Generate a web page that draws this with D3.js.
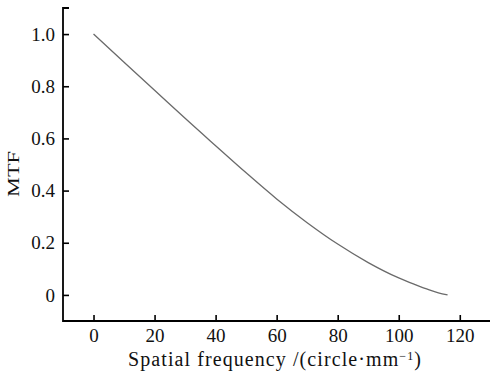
<!DOCTYPE html>
<html><head><meta charset="utf-8">
<script src="https://cdn.jsdelivr.net/npm/d3@7"></script>
<style>
html,body{margin:0;padding:0;background:#fff;}
svg text{font-family:"Liberation Serif","Times New Roman",serif;}
</style></head>
<body><svg id="c" width="490" height="373"></svg>
<script>
const freq = [0, 10, 20, 30, 40, 50, 60, 70, 80, 90, 100, 105, 110, 113, 116];
const mtf  = [1.0, 0.892, 0.785, 0.677, 0.572, 0.468, 0.368, 0.277, 0.195, 0.124, 0.065, 0.041, 0.019, 0.008, 0.0];
const xTicks = [0, 20, 40, 60, 80, 100, 120];
const yTicks = [0, 0.2, 0.4, 0.6, 0.8, 1.0];
const yTickLabels = ["0", "0.2", "0.4", "0.6", "0.8", "1.0"];

const svg = d3.select("#c");
const x = d3.scaleLinear().domain([-10, 130]).range([63, 490.3]);
const y = d3.scaleLinear().domain([-0.1, 1.1]).range([321, 8]);

const gx = svg.append("g").attr("transform", "translate(0,321)")
  .call(d3.axisBottom(x).tickValues(xTicks).tickSizeInner(-6).tickSizeOuter(0).tickPadding(8).tickFormat(d3.format("d")));
const gy = svg.append("g").attr("transform", "translate(63,0)")
  .call(d3.axisLeft(y).tickValues(yTicks).tickSizeInner(-6).tickSizeOuter(0).tickPadding(8)
    .tickFormat((d,i) => yTickLabels[i]));
[gx, gy].forEach(g => {
  g.select(".domain").remove();
  g.selectAll(".tick line").attr("stroke", "#000").attr("stroke-width", 1.6);
  g.selectAll(".tick text").attr("font-size", 19).attr("fill", "#111")
    .style("font-family", '"Liberation Serif","Times New Roman",serif');
});

// axis lines
svg.append("path").attr("d", `M${x(-10)+6},${y(1.1)}H${x(-10)}V${y(-0.1)}H490`)
  .attr("fill", "none").attr("stroke", "#000").attr("stroke-width", 1.8);

const line = d3.line().x((d,i) => x(freq[i])).y(d => y(d)).curve(d3.curveMonotoneX);
svg.append("path").datum(mtf).attr("d", line)
  .attr("fill", "none").attr("stroke", "#6a6a6a").attr("stroke-width", 1.3);

const xl = svg.append("text").attr("x", 275).attr("y", 366).attr("text-anchor", "middle")
  .attr("font-size", 20).attr("fill", "#111");
xl.append("tspan").text("Spatial frequency /(circle\u00b7mm");
xl.append("tspan").attr("font-size", 12).attr("dy", -6).text("\u22121");
xl.append("tspan").attr("dy", 6).text(")");
const len = xl.node().getComputedTextLength();
const nch = "Spatial frequency /(circle\u00b7mm\u22121)".length;
xl.attr("letter-spacing", Math.max(0, (294 - len) / nch));

svg.append("text").attr("transform", "translate(19,174) rotate(-90)")
  .attr("text-anchor", "middle").attr("font-size", 17).attr("fill", "#111")
  .attr("textLength", 46).attr("lengthAdjust", "spacingAndGlyphs").text("MTF");
</script></body></html>
